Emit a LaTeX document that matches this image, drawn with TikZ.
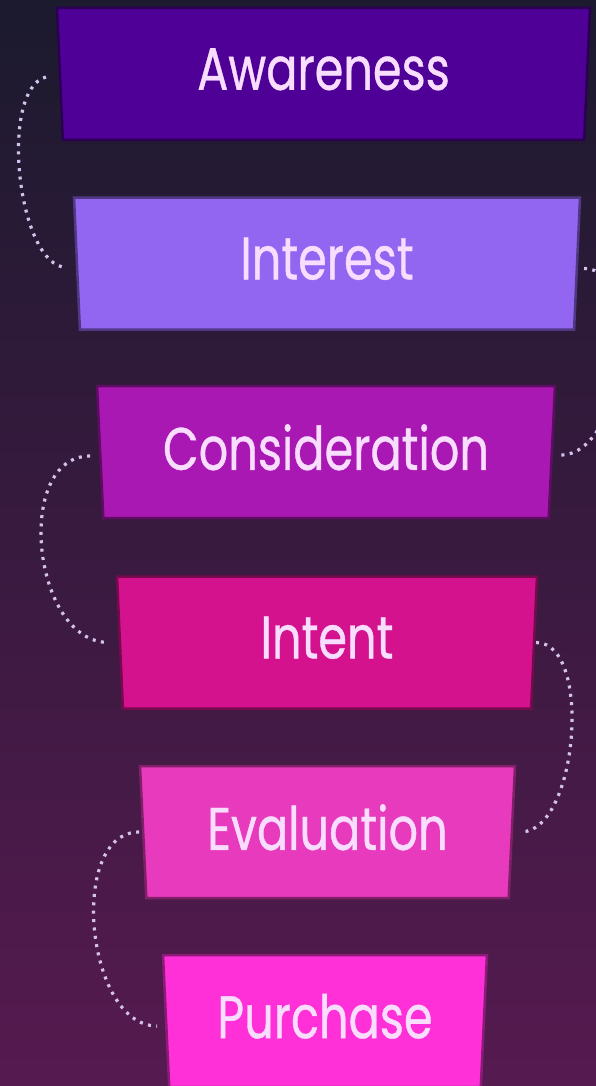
\documentclass[tikz,border=0pt]{standalone}
\usepackage{fontspec}
\newfontfamily\stagefont[FakeStretch=0.77,FakeBold=0.6]{Poppins}
\usetikzlibrary{shapes.geometric}

\definecolor{bgtop}{HTML}{1B1A2E}
\definecolor{bgmid}{HTML}{2C1A42}
\definecolor{bgbot}{HTML}{561A50}
\definecolor{awarecol}{HTML}{4F0097}
\definecolor{interestcol}{HTML}{9366F2}
\definecolor{considercol}{HTML}{AA18B4}
\definecolor{intentcol}{HTML}{D4128E}
\definecolor{evalcol}{HTML}{E83ABD}
\definecolor{purchasecol}{HTML}{FF30D8}
\definecolor{stagetext}{HTML}{F8DDFF}
\definecolor{dotcol}{HTML}{D2C2EC}

\begin{document}
\begin{tikzpicture}
    [x=1pt,y=-1pt,
     stage/.style={trapezium, shape border rotate=180, trapezium stretches body,
        trapezium angle=83.5, minimum height=132pt, inner sep=0pt, outer sep=0pt,
        text depth=10pt, fill=#1, draw=#1!55!black, line width=2.5pt,
        text=stagetext, font=\stagefont\fontsize{60}{60}\selectfont},
     link/.style={draw=dotcol, line width=3.2pt, dash pattern=on 3pt off 5.4pt}]
    \useasboundingbox (0,0) rectangle (596,1086);
    \clip (0,0) rectangle (596,1086);
    \shade[top color=bgtop, middle color=bgmid, bottom color=bgbot] (0,0) rectangle (596,1086);
    % funnel stages
    \node[stage=awarecol, minimum width=533pt] (aw) at (323.5,74) {Awareness};
    \node[stage=interestcol, minimum width=506pt] (in) at (327,263.5) {Interest};
    \node[stage=considercol, minimum width=458pt] (co) at (326,452) {Consideration};
    \node[stage=intentcol, minimum width=420pt] (it) at (327,642.5) {Intent};
    \node[stage=evalcol, minimum width=375pt] (ev) at (327.5,832) {Evaluation};
    \node[stage=purchasecol, minimum width=324pt] (pu) at (325,1021) {Purchase};
    % dotted links
    \draw[link] ([xshift=-14pt,yshift=-3pt]aw.west) to[out=195,in=180,looseness=0.66] ([xshift=-10pt,yshift=-4pt]in.west);
    \draw[link] ([xshift=7pt,yshift=-5pt]in.east) to[out=0,in=0,looseness=0.87] ([xshift=9pt,yshift=-3pt]co.east);
    \draw[link] ([xshift=-10pt,yshift=-4pt]co.west) to[out=180,in=180,looseness=1.05] ([xshift=-11pt]it.west);
    \draw[link] ([xshift=2pt]it.east) to[out=0,in=0,looseness=0.77] ([xshift=9pt]ev.east);
    \draw[link] ([xshift=-4pt]ev.west) to[out=180,in=180,looseness=0.94] ([xshift=-9pt,yshift=-5pt]pu.west);
\end{tikzpicture}
\end{document}
